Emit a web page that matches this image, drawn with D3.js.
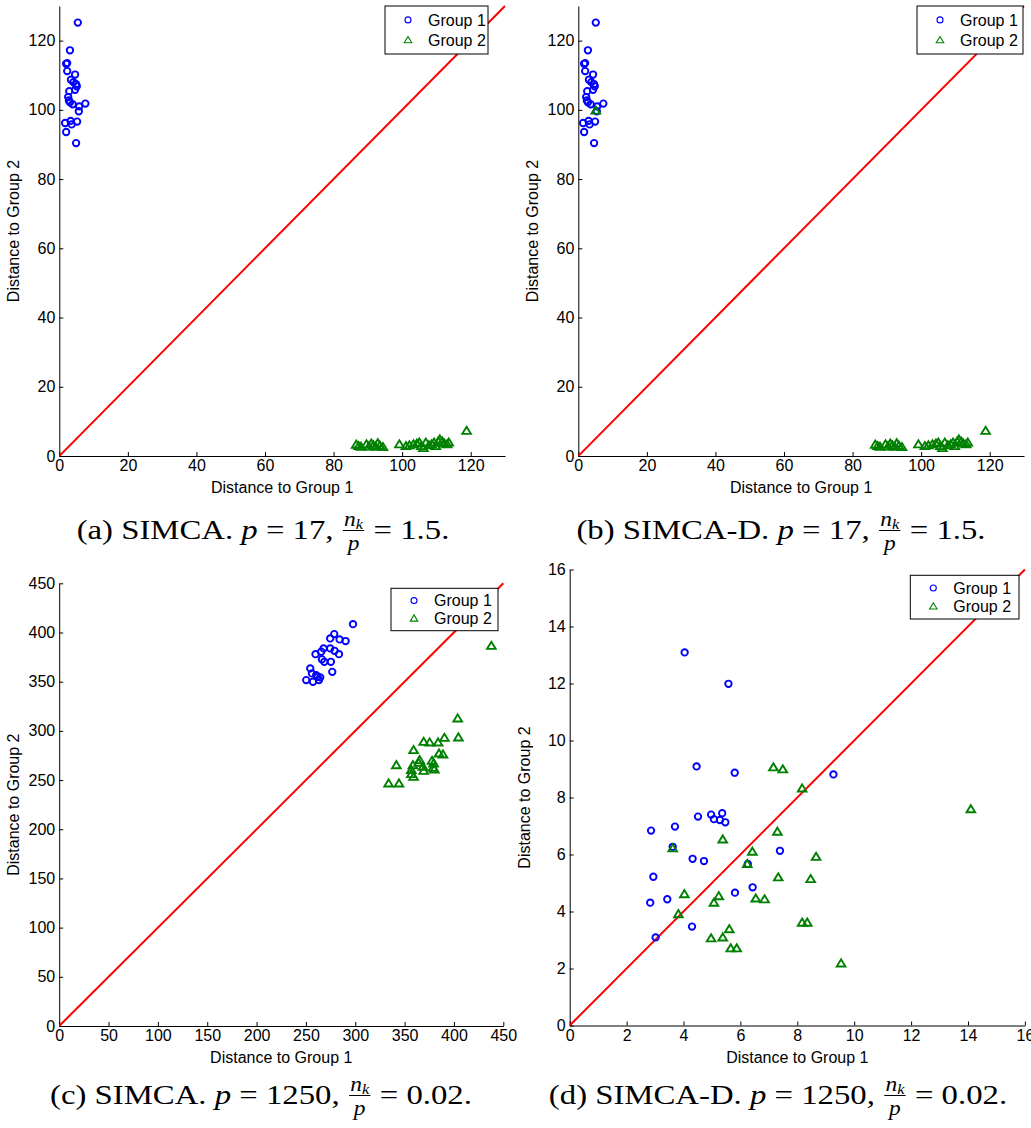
<!DOCTYPE html>
<html><head><meta charset="utf-8">
<script src="https://cdn.jsdelivr.net/npm/d3@7"></script>
<style>body{margin:0;background:#fff}svg{display:block}</style>
</head><body>
<svg id="chart" width="1031" height="1128"></svg>
<script>
// ---------- data ----------
const aG1X = [5.4, 3.1, 2.0, 2.3, 2.3, 4.6, 3.4, 4.1, 4.9, 5.1, 4.6, 2.9, 2.6, 2.8, 3.1, 7.6, 3.9, 5.8, 5.7, 1.7, 3.3, 3.6, 5.2, 2.0, 4.9];
const aG1Y = [125.2, 117.2, 113.3, 113.5, 111.2, 110.2, 108.7, 108.0, 107.4, 106.8, 105.8, 105.4, 103.7, 102.7, 102.2, 101.8, 101.6, 101.0, 99.6, 96.2, 96.8, 95.8, 96.6, 93.6, 90.4];
const aG2X = [86.6, 87.3, 88.0, 89.6, 90.3, 91.0, 91.6, 92.2, 92.9, 93.5, 94.4,
              99.2, 101.1, 102.1, 103.3, 104.3, 105.0, 105.6, 106.2, 106.9, 107.8, 108.6, 109.3, 109.8, 110.5, 111.0, 111.7, 112.3, 113.1, 113.6, 118.8];
const aG2Y = [3.3, 2.9, 2.7, 3.4, 2.8, 3.6, 3.1, 2.7, 3.7, 3.0, 2.6,
              3.4, 2.9, 3.1, 3.4, 3.6, 3.9, 2.9, 2.3, 3.9, 3.1, 3.4, 3.9, 2.9, 4.2, 4.8, 4.2, 3.6, 3.4, 3.9, 7.3];

const bG1X = [5.1, 2.8, 1.7, 2.0, 2.0, 4.3, 3.1, 3.8, 4.6, 4.8, 4.3, 2.6, 2.3, 2.5, 2.8, 7.3, 3.6, 5.5, 5.4, 1.4, 3.0, 3.3, 4.9, 1.7, 4.6];
const bG1Y = [125.2, 117.2, 113.3, 113.5, 111.2, 110.2, 108.7, 108.0, 107.4, 106.8, 105.8, 105.4, 103.7, 102.7, 102.2, 101.8, 101.6, 101.0, 99.6, 96.2, 96.8, 95.8, 96.6, 93.6, 90.4];
const bG2X = [86.6, 87.3, 88.0, 89.6, 90.3, 91.0, 91.6, 92.2, 92.9, 93.5, 94.4,
              99.2, 101.1, 102.1, 103.3, 104.3, 105.0, 105.6, 106.2, 106.9, 107.8, 108.6, 109.3, 109.8, 110.5, 111.0, 111.7, 112.3, 113.1, 113.6, 118.8, 5.1];
const bG2Y = [3.3, 2.9, 2.7, 3.4, 2.8, 3.6, 3.1, 2.7, 3.7, 3.0, 2.6,
              3.4, 2.9, 3.1, 3.4, 3.6, 3.9, 2.9, 2.3, 3.9, 3.1, 3.4, 3.9, 2.9, 4.2, 4.8, 4.2, 3.6, 3.4, 3.9, 7.3, 99.8];

const cG1X = [297.7, 278.7, 274.6, 284.1, 290.2, 267.9, 274.6, 279.0, 259.7, 283.5, 265.5, 266.2, 268.6, 275.3, 254.4, 256.1, 260.4, 264.5, 261.8, 276.7, 250.3, 257.1, 263.2];
const cG1Y = [408.5, 398.4, 394.0, 393.0, 391.3, 383.8, 383.8, 381.4, 378.0, 378.0, 380.4, 372.7, 370.2, 370.2, 363.5, 358.4, 356.7, 354.4, 355.0, 360.0, 351.6, 349.9, 351.6];
const cG2X = [437.9, 403.8, 404.5, 390.3, 369.3, 375.4, 383.9, 359.1, 384.9, 388.9, 365.2, 377.8, 379.4, 358.4, 368.6, 378.8, 341.6, 356.8, 369.3, 380.1, 359.1, 333.8, 344.3, 364.2, 356.8];
const cG2Y = [386.5, 312.7, 293.4, 293.0, 288.9, 288.3, 288.3, 280.5, 277.1, 276.1, 270.3, 269.6, 267.0, 265.2, 263.5, 262.5, 265.2, 260.2, 259.5, 260.9, 253.4, 246.6, 246.6, 267.6, 256.1];

const dG1X = [4.04, 5.58, 4.46, 5.80, 9.27, 2.86, 3.70, 3.62, 4.51, 4.97, 5.36, 5.07, 5.28, 5.47, 4.32, 4.72, 2.94, 2.83, 3.43, 3.02, 4.30, 5.81, 6.43, 6.26, 7.39];
const dG1Y = [13.09, 11.99, 9.09, 8.87, 8.81, 6.84, 6.98, 6.27, 7.33, 7.40, 7.45, 7.24, 7.21, 7.13, 5.85, 5.77, 5.22, 4.31, 4.43, 3.09, 3.47, 4.66, 4.85, 5.67, 6.13];
const dG2X = [7.16, 7.49, 8.17, 7.30, 5.38, 3.62, 6.42, 6.24, 8.66, 7.33, 8.47, 4.03, 5.24, 5.07, 6.54, 6.85, 3.82, 5.61, 4.97, 5.38, 5.66, 5.87, 8.17, 8.35, 9.54, 14.10];
const dG2Y = [9.06, 8.99, 8.32, 6.80, 6.53, 6.22, 6.10, 5.67, 5.92, 5.20, 5.14, 4.61, 4.54, 4.31, 4.46, 4.43, 3.91, 3.38, 3.06, 3.09, 2.71, 2.71, 3.61, 3.61, 2.18, 7.59];

const ticks130 = [0, 20, 40, 60, 80, 100, 120];
const ticks450 = [0, 50, 100, 150, 200, 250, 300, 350, 400, 450];
const ticks16 = [0, 2, 4, 6, 8, 10, 12, 14, 16];
const legendLabels = ["Group 1", "Group 2"];
const xLabel = "Distance to Group 1";
const yLabel = "Distance to Group 2";
const capTags = ["(a)", "(b)", "(c)", "(d)"];
const capMethods = ["SIMCA.", "SIMCA-D.", "SIMCA.", "SIMCA-D."];
const capP = ["17", "17", "1250", "1250"];
const capRatio = ["1.5.", "1.5.", "0.02.", "0.02."];

// ---------- layout ----------
const panels = [
  {g1x:aG1X, g1y:aG1Y, g2x:aG2X, g2y:aG2Y, dom:[0,130], ticks:ticks130,
   box:{l:59.3, r:505, t:6, b:456}, leg:{x:385, y:6, w:103, h:48}, cap:{cx:263, y:539}},
  {g1x:bG1X, g1y:bG1Y, g2x:bG2X, g2y:bG2Y, dom:[0,130], ticks:ticks130,
   box:{l:578.3, r:1024, t:6, b:456}, leg:{x:917, y:6, w:106, h:48}, cap:{cx:781, y:539}},
  {g1x:cG1X, g1y:cG1Y, g2x:cG2X, g2y:cG2Y, dom:[0,450], ticks:ticks450,
   box:{l:59.2, r:503.3, t:583.3, b:1026}, leg:{x:391, y:588.3, w:107, h:42.4}, cap:{cx:261, y:1104}},
  {g1x:dG1X, g1y:dG1Y, g2x:dG2X, g2y:dG2Y, dom:[0,16], ticks:ticks16,
   box:{l:569.7, r:1024.9, t:569.5, b:1025.5}, leg:{x:910.3, y:575.3, w:108.7, h:43.7}, cap:{cx:778, y:1104}}
];

const BLUE = "#0000ff", GREEN = "#008000", RED = "#ff0000";
const svg = d3.select("#chart");
const triPath = s => `M0,${-s}L${s*1.08},${s*0.78}L${-s*1.08},${s*0.78}Z`;

panels.forEach((p, i) => {
  const x = d3.scaleLinear().domain(p.dom).range([p.box.l, p.box.r]);
  const y = d3.scaleLinear().domain(p.dom).range([p.box.b, p.box.t]);
  const g = svg.append("g");
  const clipId = "clip" + i;
  svg.append("clipPath").attr("id", clipId).append("rect")
    .attr("x", p.box.l).attr("y", p.box.t - 1).attr("width", p.box.r - p.box.l + 1).attr("height", p.box.b - p.box.t + 1);

  // axes
  const xa = g.append("g").attr("transform", `translate(0,${p.box.b})`)
    .call(d3.axisBottom(x).tickValues(p.ticks).tickSizeInner(-4).tickSizeOuter(0).tickPadding(4).tickFormat(d3.format("d")));
  const ya = g.append("g").attr("transform", `translate(${p.box.l},0)`)
    .call(d3.axisLeft(y).tickValues(p.ticks).tickSizeInner(-4).tickSizeOuter(0).tickPadding(4).tickFormat(d3.format("d")));
  [xa, ya].forEach(a => {
    a.select(".domain").attr("stroke", "#000").attr("stroke-width", 1);
    a.selectAll(".tick line").attr("stroke", "#000");
    a.selectAll("text").attr("font-family", "Liberation Sans, Arial, sans-serif").attr("font-size", 16).attr("fill", "#000");
  });

  g.append("text").attr("x", (p.box.l + p.box.r) / 2).attr("y", p.box.b + 37)
    .attr("text-anchor", "middle").attr("font-family", "Liberation Sans, Arial, sans-serif").attr("font-size", 16)
    .text(xLabel);
  g.append("text").attr("transform", `translate(${p.box.l - 40},${(p.box.t + p.box.b) / 2}) rotate(-90)`)
    .attr("text-anchor", "middle").attr("font-family", "Liberation Sans, Arial, sans-serif").attr("font-size", 16)
    .text(yLabel);

  // diagonal
  g.append("line").attr("clip-path", `url(#${clipId})`)
    .attr("x1", x(p.dom[0])).attr("y1", y(p.dom[0])).attr("x2", x(p.dom[1])).attr("y2", y(p.dom[1]))
    .attr("stroke", RED).attr("stroke-width", 2);

  // points
  g.selectAll(".c").data(p.g1x.map((v, k) => [v, p.g1y[k]])).enter().append("circle")
    .attr("cx", d => x(d[0])).attr("cy", d => y(d[1])).attr("r", 3.2)
    .attr("fill", "none").attr("stroke", BLUE).attr("stroke-width", 1.9);
  g.selectAll(".t").data(p.g2x.map((v, k) => [v, p.g2y[k]])).enter().append("path")
    .attr("transform", d => `translate(${x(d[0])},${y(d[1])})`).attr("d", triPath(4))
    .attr("fill", "none").attr("stroke", GREEN).attr("stroke-width", 1.9).attr("stroke-linejoin", "miter");

  // legend
  const L = p.leg;
  const lg = g.append("g").attr("transform", `translate(${L.x},${L.y})`);
  lg.append("rect").attr("width", L.w).attr("height", L.h).attr("fill", "#fff").attr("stroke", "#000").attr("stroke-width", 1);
  const row1 = L.h * 0.29, row2 = L.h * 0.71;
  lg.append("circle").attr("cx", 23).attr("cy", row1).attr("r", 3).attr("fill", "none").attr("stroke", BLUE).attr("stroke-width", 1.1);
  lg.append("path").attr("transform", `translate(23,${row2})`).attr("d", triPath(3.5)).attr("fill", "none").attr("stroke", GREEN).attr("stroke-width", 1.1);
  [row1, row2].forEach((ry, k) => {
    lg.append("text").attr("x", 43).attr("y", ry).attr("dy", "0.36em")
      .attr("font-family", "Liberation Sans, Arial, sans-serif").attr("font-size", 16).text(legendLabels[k]);
  });

  // caption
  const outer = svg.append("g");
  const cg = outer.append("g");
  const serif = "Liberation Serif, DejaVu Serif, serif";
  const fs = 28;
  let cx = 0;
  const addText = (t, italic) => {
    const el = cg.append("text").attr("x", cx).attr("y", 0).attr("font-family", serif).attr("font-size", fs)
      .attr("font-style", italic ? "italic" : "normal").attr("xml:space", "preserve").style("white-space", "pre").text(t);
    cx += el.node().getComputedTextLength();
  };
  addText(capTags[i] + " " + capMethods[i] + " ", false);
  addText("p", true);
  addText(" = " + capP[i] + ", ", false);
  // fraction
  const fx = cx + 1;
  const num = cg.append("text").attr("y", -13).attr("font-family", serif).attr("font-size", 20).attr("font-style", "italic");
  num.append("tspan").text("n");
  num.append("tspan").attr("font-size", 14).attr("dy", 3).text("k");
  const nw = num.node().getComputedTextLength();
  const den = cg.append("text").attr("y", 11).attr("font-family", serif).attr("font-size", 20).attr("font-style", "italic").text("p");
  const dw = den.node().getComputedTextLength();
  const fw = Math.max(nw, dw) + 2;
  num.attr("x", fx + (fw - nw) / 2);
  den.attr("x", fx + (fw - dw) / 2);
  cg.append("line").attr("x1", fx).attr("x2", fx + fw).attr("y1", -8.5).attr("y2", -8.5).attr("stroke", "#000").attr("stroke-width", 1);
  cx = fx + fw + 1;
  addText(" = " + capRatio[i], false);
  const sx = 1.17;
  cg.attr("transform", `scale(${sx},1)`);
  outer.attr("transform", `translate(${p.cap.cx - cx * sx / 2},${p.cap.y})`);
});
</script>
</body></html>
